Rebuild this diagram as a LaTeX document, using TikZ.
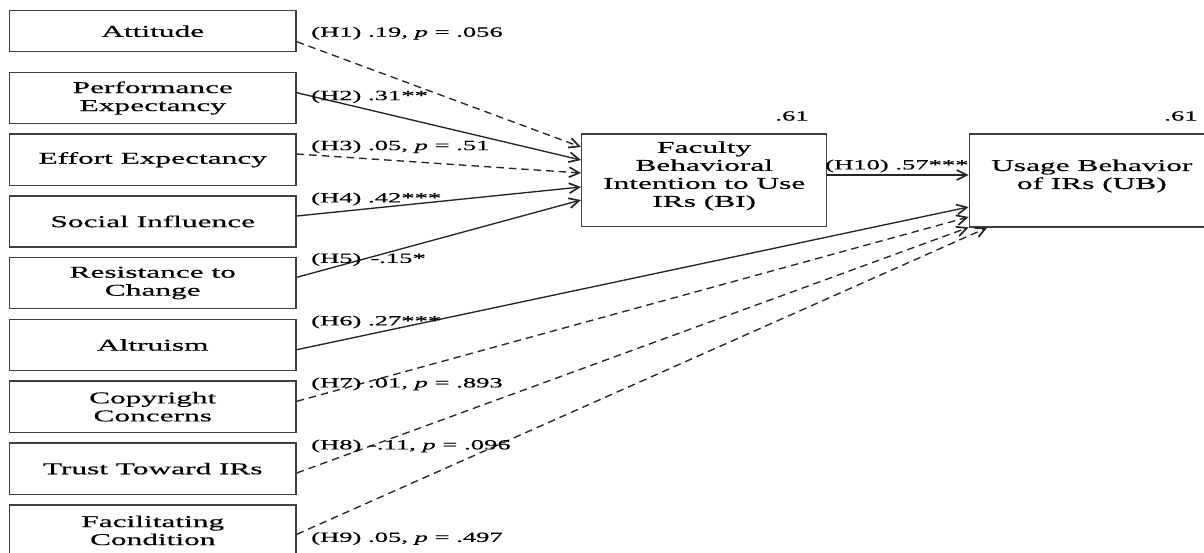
\documentclass[tikz,border=0pt]{standalone}
\usepackage{fontspec}
\setmainfont{Liberation Serif}[FakeStretch=1.9,FakeBold=0.5]
\usetikzlibrary{arrows.meta,calc}

\begin{document}
\begin{tikzpicture}[x=1pt,y=-1pt,
  box/.style={draw=black!75, line width=1.5pt, inner sep=0pt, align=center,
    font=\fontsize{16.5}{18}\selectfont},
  inbox/.style={box, minimum width=286.5pt, minimum height=51.3pt},
  bigbox/.style={box, minimum width=245pt, minimum height=92.7pt},
  coef/.style={anchor=west, inner sep=0pt, font=\fontsize{14}{16}\selectfont},
  rsq/.style={inner sep=0pt, font=\fontsize{14}{16}\selectfont},
  effect/.style={line width=1.35pt, draw=black!85,
    -{Straight Barb[length=10pt,width=10pt,line width=1.7pt]}},
  weak/.style={effect, dash pattern=on 7.5pt off 5pt}
]
\useasboundingbox (0,0) rectangle (1204,552);

% predictor constructs
\node[box, minimum width=286.5pt, minimum height=41pt] (att) at (152.75,31.2) {Attitude};
\node[inbox] (pe)  at (152.75,98.0)  {Performance\\Expectancy};
\node[inbox] (ee)  at (152.75,159.7) {Effort Expectancy};
\node[inbox] (si)  at (152.75,221.4) {Social Influence};
\node[inbox] (rc)  at (152.75,283.0) {Resistance to\\Change};
\node[inbox] (alt) at (152.75,345.0) {Altruism};
\node[inbox] (cc)  at (152.75,406.7) {Copyright\\Concerns};
\node[inbox] (tr)  at (152.75,468.6) {Trust Toward IRs};
\node[inbox] (fc)  at (152.75,530.4) {Facilitating\\Condition};

% outcome constructs
\node[bigbox] (bi) at (704.2,180.35) {};
\node[box, draw=none, anchor=center] (bitxt) at ($(bi.center)+(0,-4.5)$)
  {Faculty\\Behavioral\\Intention to Use\\IRs (BI)};
\node[bigbox] (ub) at (1091.8,180.5) {};
\node[box, draw=none, anchor=center] (ubtxt) at ($(ub.center)+(0,-4.5)$)
  {Usage Behavior\\of IRs (UB)};

% explained variance
\node[rsq] (r2bi) at (792,116) {.61};
\node[rsq] (r2ub) at (1181,116) {.61};

% paths into BI
\draw[weak]   ($(att.east)+(0,10.5)$) -- ($(bi.west)+(0,-33.35)$);
\draw[effect] ($(pe.east)+(0,-5.3)$)  -- ($(bi.west)+(0,-20.35)$);
\draw[weak]   ($(ee.east)+(0,-5.7)$)  -- ($(bi.west)+(0,-7.35)$);
\draw[effect] ($(si.east)+(0,-5.4)$)  -- ($(bi.west)+(0,6.65)$);
\draw[effect] ($(rc.east)+(0,-5.7)$)  -- ($(bi.west)+(0,19.65)$);

% paths into UB
\draw[effect] ($(alt.east)+(0,4.7)$)  -- ($(ub.west)+(0,26.5)$);
\draw[weak]   ($(cc.east)+(0,-5.4)$)  -- ($(ub.west)+(0,36.5)$);
\draw[weak]   ($(tr.east)+(0,4.4)$)   -- ($(ub.south west)+(0,-0.2)$);
\draw[weak]   ($(fc.east)+(0,3.9)$)   -- ($(ub.south west)+(18.7,0)$);
\draw[effect] ($(bi.east)+(0,-5.35)$) -- ($(ub.west)+(0,-5.5)$);

% path coefficients
\node[coef] (h1) at (311,33.3)  {(H1) .19, \textit{p} = .056};
\node[coef] (h2) at (311,96.7)  {(H2) .31**};
\node[coef] (h3) at (311,146.7) {(H3) .05, \textit{p} = .51};
\node[coef] (h4) at (311,199)   {(H4) .42***};
\node[coef] (h5) at (311,259.5) {(H5) \,-.15*};
\node[coef] (h6) at (311,322)   {(H6) .27***};
\node[coef] (h7) at (311,384)   {(H7) .01, \textit{p} = .893};
\node[coef] (h8) at (311,446)   {(H8) -.11, \textit{p} = .096};
\node[coef] (h9) at (311,538.5) {(H9) .05, \textit{p} = .497};
\node[coef] (h10) at (825,166)  {(H10) .57***};
\end{tikzpicture}
\end{document}
